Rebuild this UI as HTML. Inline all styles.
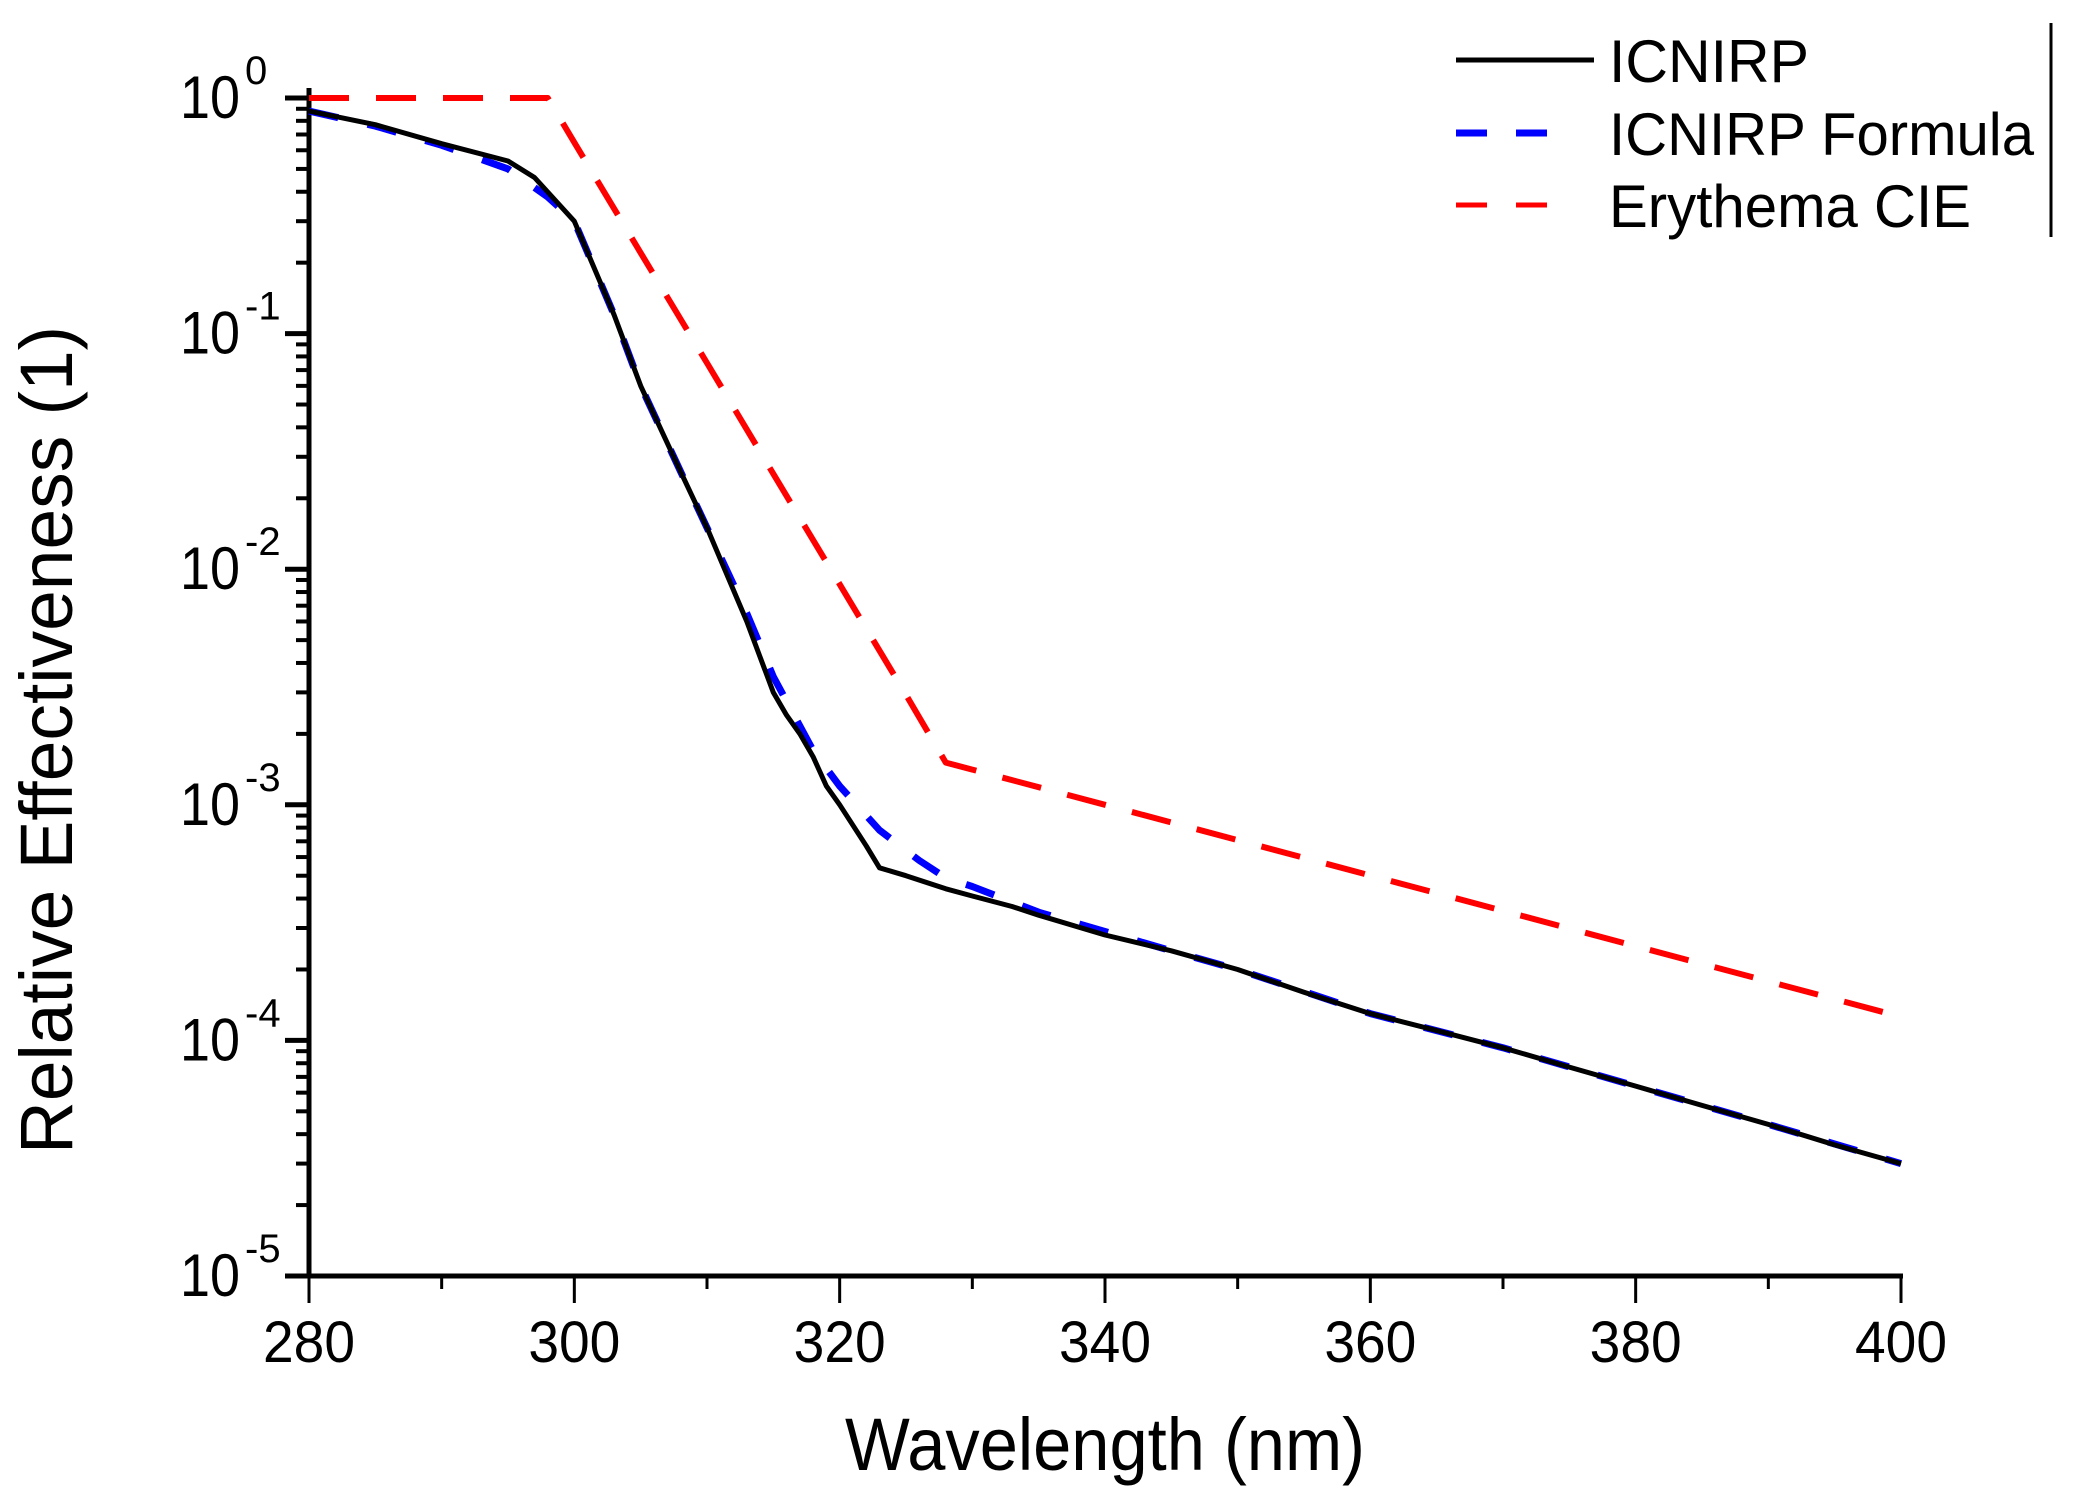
<!DOCTYPE html>
<html><head><meta charset="utf-8"><style>
html,body{margin:0;padding:0;background:#fff;}
svg{display:block;font-family:"Liberation Sans",Arial,sans-serif;}
</style></head><body>
<svg id="chart" width="2078" height="1500" viewBox="0 0 2078 1500" xmlns="http://www.w3.org/2000/svg">
<rect width="2078" height="1500" fill="#fff"/>
<g id="ticks"></g>
<g id="series"></g>
<text x="1105" y="1470" font-size="74" text-anchor="middle" textLength="520" lengthAdjust="spacingAndGlyphs">Wavelength (nm)</text>
<text transform="translate(72,740) rotate(-90)" font-size="74" text-anchor="middle" textLength="828" lengthAdjust="spacingAndGlyphs">Relative Effectiveness (1)</text>
<g>
<line x1="1456" y1="60" x2="1594" y2="60" stroke="#000" stroke-width="5"/>
<text x="1609" y="82" font-size="60" textLength="200" lengthAdjust="spacingAndGlyphs">ICNIRP</text>
<line x1="1456" y1="133" x2="1548" y2="133" stroke="#0000ff" stroke-width="7" stroke-dasharray="31,29"/>
<text x="1609" y="155" font-size="60" textLength="425" lengthAdjust="spacingAndGlyphs">ICNIRP Formula</text>
<line x1="1456" y1="205" x2="1548" y2="205" stroke="#ff0000" stroke-width="5" stroke-dasharray="31,29"/>
<text x="1609" y="227" font-size="60" textLength="362" lengthAdjust="spacingAndGlyphs">Erythema CIE</text>
<line x1="2051" y1="23" x2="2051" y2="237" stroke="#000" stroke-width="3"/>
</g>
</svg>
<script>
const xTicks = [280, 300, 320, 340, 360, 380, 400];
const yExps = [0, -1, -2, -3, -4, -5];
const wlIcnirp = [280,285,290,295,297,300,303,305,308,310,313,315,316,317,318,319,320,322,323,325,328,330,333,335,340,345,350,355,360,365,370,375,380,385,390,395,400];
const valIcnirp = [0.88,0.77,0.64,0.54,0.46,0.30,0.12,0.06,0.026,0.015,0.006,0.003,0.0024,0.002,0.0016,0.0012,0.001,0.00067,0.00054,0.0005,0.00044,0.00041,0.00037,0.00034,0.00028,0.00024,0.0002,0.00016,0.00013,0.00011,0.000093,0.000077,0.000064,0.000053,0.000044,0.000036,0.00003];
const wlFormula = [280,285,290,295,298,300,303,305,308,310,313,315,318,320,323,326,328,330,335,340,345,350,360,370,380,390,400];
const valFormula = [0.88,0.76,0.63,0.5,0.38,0.3,0.12,0.06,0.026,0.015,0.0065,0.0035,0.0017,0.0012,0.00078,0.00058,0.00049,0.00045,0.00035,0.00029,0.00024,0.0002,0.00013,0.000093,0.000064,0.000044,0.00003];
const wlErythema = [280,298,300,305,310,315,320,325,328,330,340,350,360,370,380,390,400];
const valErythema = [1,1,0.648,0.22,0.075,0.0254,0.00863,0.00293,0.00151,0.00141,0.001,0.000708,0.000501,0.000355,0.000251,0.000178,0.000126];

const NS = "http://www.w3.org/2000/svg";
const X0 = 309, X1 = 1901, Y0 = 98, Y1 = 1276;
function xs(v){ return X0 + (v - 280) / 120 * (X1 - X0); }
function ys(v){ return Y0 + (0 - Math.log10(v)) / 5 * (Y1 - Y0); }
function mk(tag, attrs, parent){ const e = document.createElementNS(NS, tag); for (const k in attrs) e.setAttribute(k, attrs[k]); parent.appendChild(e); return e; }

const ax = document.getElementById('ticks');
let yl = mk('line', {x1:X0, y1:Y0-10, x2:X0, y2:Y1+2, stroke:'#000', 'stroke-width':5}, ax);


let xl = mk('line', {x1:X0-24, y1:Y1, x2:X1+2, y2:Y1, stroke:'#000', 'stroke-width':5}, ax);



for (let v = 280; v <= 400; v += 10) {
  const major = xTicks.indexOf(v) >= 0;
  const t = mk('line', {x1:xs(v), y1:Y1, x2:xs(v), y2:Y1 + (major ? 27 : 13), stroke:'#000', 'stroke-width':3}, ax);
  
  
}
xTicks.forEach(v => {
  const t = mk('text', {x:xs(v), y:1362, 'font-size':58, 'text-anchor':'middle', textLength:92, lengthAdjust:'spacingAndGlyphs'}, ax);
  t.textContent = v;
  
  
});
yExps.forEach(e => {
  const t = mk('line', {x1:X0-24, y1:ys(Math.pow(10,e)), x2:X0, y2:ys(Math.pow(10,e)), stroke:'#000', 'stroke-width':5}, ax);
  
  
  if (e > -5) {
    for (let m = 2; m <= 9; m++) {
      const mt = mk('line', {x1:X0-13, y1:ys(m*Math.pow(10,e-1)), x2:X0, y2:ys(m*Math.pow(10,e-1)), stroke:'#000', 'stroke-width':4}, ax);
      
      
    }
  }
  const lab = mk('text', {x:240, y:ys(Math.pow(10,e)) + 20, 'font-size':60, 'text-anchor':'end', textLength:60, lengthAdjust:'spacingAndGlyphs'}, ax);
  lab.textContent = '10';
  
  
  const sup = mk('text', {x:245, y:ys(Math.pow(10,e)) - 14, 'font-size':40}, ax);
  sup.textContent = e === 0 ? '0' : '-' + (-e);
  
  
});

const sg = document.getElementById('series');
function path(wl, vals, attrs, name){
  const d = wl.map((w,i) => (i ? 'L' : 'M') + xs(w).toFixed(1) + ',' + ys(vals[i]).toFixed(1)).join(' ');
  const p = mk('path', Object.assign({d:d, fill:'none', 'stroke-linejoin':'round'}, attrs), sg);
  
  
}
path(wlErythema, valErythema, {stroke:'#ff0000', 'stroke-width':6, 'stroke-dasharray':'40,27'}, 'erythema-cie-line');
path(wlFormula, valFormula, {stroke:'#0000ff', 'stroke-width':7, 'stroke-dasharray':'30,30'}, 'icnirp-formula-line');
path(wlIcnirp, valIcnirp, {stroke:'#000', 'stroke-width':5}, 'icnirp-line');
</script>
</body></html>
